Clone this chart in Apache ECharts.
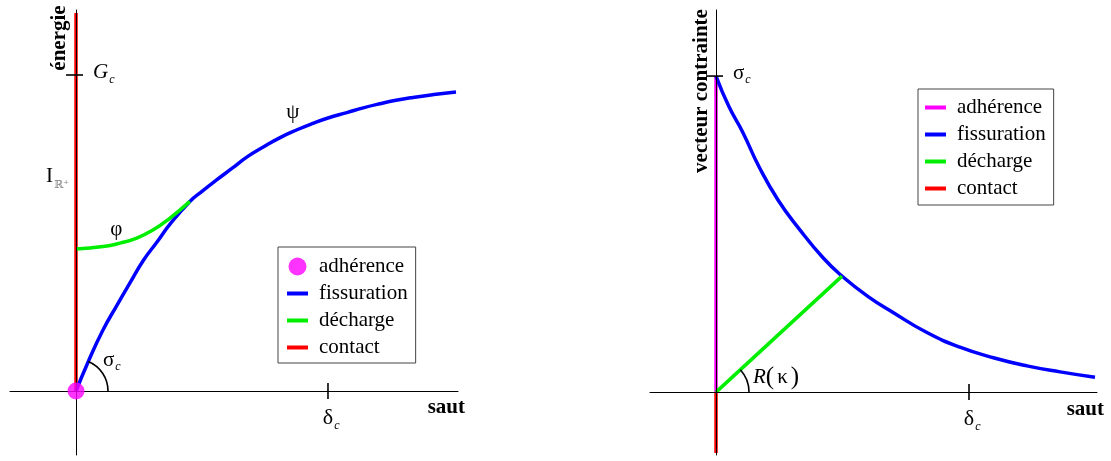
<!DOCTYPE html>
<html>
<head>
<meta charset="utf-8">
<script src="https://cdn.jsdelivr.net/npm/echarts@6/dist/echarts.min.js"></script>
<style>
  html, body { margin: 0; padding: 0; background: #fff; }
  #chart { width: 1111px; height: 461px; }
</style>
</head>
<body>
<div id="chart"></div>
<script>
// Reference values (unit = critical value on each axis)
const GC = 1;        // G_c, critical energy
const SIGMA_C = 1;   // σ_c, critical stress
const DELTA_C = 1;   // δ_c, critical jump

// Left panel: energy versus jump
const fissurationEnergie = [[0, 0], [0.048, 0.092], [0.107, 0.193], [0.16, 0.268], [0.214, 0.342],
  [0.267, 0.413], [0.32, 0.470], [0.373, 0.528], [0.452, 0.600], [0.50, 0.632], [0.558, 0.668],
  [0.62, 0.705], [0.679, 0.741], [0.745, 0.773], [0.810, 0.802], [0.875, 0.826], [0.940, 0.847],
  [1.0, 0.864], [1.075, 0.881], [1.14, 0.896], [1.206, 0.909], [1.27, 0.920], [1.337, 0.929],
  [1.42, 0.938], [1.508, 0.946]];
const dechargeEnergie = [[0, 0.449], [0.108, 0.457], [0.175, 0.468], [0.241, 0.484],
  [0.307, 0.510], [0.373, 0.547], [0.452, 0.600]];
const contactEnergie = [[0, 0], [0, 1.196]];
const adherenceEnergie = [[0, 0]];

// Right panel: stress vector versus jump
const fissurationContrainte = [[0, 1], [0.05, 0.905], [0.107, 0.820], [0.17, 0.713], [0.245, 0.608],
  [0.33, 0.515], [0.423, 0.425], [0.498, 0.367], [0.60, 0.303], [0.700, 0.252], [0.83, 0.190],
  [0.964, 0.142], [1.10, 0.108], [1.229, 0.083], [1.36, 0.064], [1.498, 0.047]];
const dechargeContrainte = [[0, 0], [0.498, 0.367]];
const adherenceContrainte = [[0, 0], [0, 1]];
const contactContrainte = [[0, 0], [0, -0.193]];

// Legend entries (same wording on both panels)
const legendLabels = ['adhérence', 'fissuration', 'décharge', 'contact'];

const SERIF = "'Liberation Serif', 'Times New Roman', 'DejaVu Serif', serif";
const COLORS = { adherence: '#ff00ff', fissuration: '#0000ff', decharge: '#00ee00', contact: '#ff0000' };

// Axis extents of each panel
const LEFT_X = [-0.262, 1.516], LEFT_Y = [-0.2025, 1.2057];
const RIGHT_X = [-0.261, 1.506], RIGHT_Y = [-0.199, 1.209];

// Label anchors (data units)
const phiLabelAt = [0.16, 0.51];
const psiLabelAt = [0.86, 0.88];
const indicatorLabelY = 0.68;

const measureCtx = document.createElement('canvas').getContext('2d');
function fontString(s) {
  return (s.fontStyle || 'normal') + ' ' + (s.fontWeight || 'normal') + ' ' + s.fontSize + 'px ' + SERIF;
}
function textW(str, s) { measureCtx.font = fontString(s); return measureCtx.measureText(str).width; }

function txt(x, y, text, s, align, extra) {
  return Object.assign({
    type: 'text', x: x, y: y,
    style: Object.assign({
      text: text, fontFamily: SERIF, fontSize: s.fontSize, fontStyle: s.fontStyle || 'normal',
      fontWeight: s.fontWeight || 'normal', fill: s.color || '#000',
      align: align || 'left', verticalAlign: 'middle'
    }, s.rich ? { rich: s.rich } : {})
  }, extra || {});
}

// Symbol with an italic subscript; align 'left' or 'center' refers to the main glyph
function subscripted(x, y, main, sub, mainS, subS, align, subDy) {
  const w = textW(main, mainS);
  const x0 = align === 'center' ? x - w / 2 : x;
  return [
    txt(x0, y, main, mainS, 'left'),
    txt(x0 + w + 1, y + (subDy || 8), sub, subS, 'left')
  ];
}

const subStyle = { fontSize: 12, fontStyle: 'italic' };
const tickStyle = { stroke: '#000', lineWidth: 1.6 };

function hTick(p, l, r) { return { type: 'line', shape: { x1: p[0] - l, y1: p[1], x2: p[0] + r, y2: p[1] }, style: tickStyle }; }
function vTick(p, a) { return { type: 'line', shape: { x1: p[0], y1: p[1] - a, x2: p[0], y2: p[1] + a }, style: tickStyle }; }
function angleArc(o, toward, r) {
  const ang = Math.atan2(o[1] - toward[1], toward[0] - o[0]);
  return { type: 'arc', shape: { cx: o[0], cy: o[1], r: r, startAngle: -ang, endAngle: 0, clockwise: true },
    style: { stroke: '#000', fill: null, lineWidth: 1.6 } };
}

function renderEnergie(params, api) {
  const o = api.coord([0, 0]);
  const g = api.coord([0, GC]);
  const d = api.coord([DELTA_C, 0]);
  const top = api.coord([0, LEFT_Y[1]]);
  const end = api.coord([LEFT_X[1], 0]);
  const phi = api.coord(phiLabelAt);
  const psi = api.coord(psiLabelAt);
  const ind = api.coord([0, indicatorLabelY]);
  const children = [
    hTick(g, 10, 7),
    vTick(d, 8),
    angleArc(o, api.coord(fissurationEnergie[1]), 32),
    txt(phi[0], phi[1], 'φ', { fontSize: 21 }, 'center'),
    txt(psi[0], psi[1], 'ψ', { fontSize: 21 }, 'center'),
    txt(end[0] + 7, o[1] + 17, 'saut', { fontSize: 21, fontWeight: 'bold' }, 'right'),
    txt(o[0] - 16, top[1] + 28, 'énergie', { fontSize: 21, fontWeight: 'bold' }, 'center', { rotation: Math.PI / 2 })
  ].concat(
    subscripted(g[0] + 17, g[1] - 3, 'G', 'c', { fontSize: 21, fontStyle: 'italic' }, subStyle, 'left', 8),
    subscripted(o[0] + 27, o[1] - 31, 'σ', 'c', { fontSize: 21 }, subStyle, 'left', 7),
    subscripted(d[0], o[1] + 27, 'δ', 'c', { fontSize: 22 }, subStyle, 'center', 8),
    subscripted(o[0] - 30, ind[1], 'I', 'ℝ⁺', { fontSize: 21 }, { fontSize: 11, color: '#888' }, 'left', 9)
  );
  return { type: 'group', children: children };
}

function renderContrainte(params, api) {
  const o = api.coord([0, 0]);
  const s = api.coord([0, SIGMA_C]);
  const d = api.coord([DELTA_C, 0]);
  const top = api.coord([0, RIGHT_Y[1]]);
  const end = api.coord([RIGHT_X[1], 0]);
  const children = [
    hTick(s, 10, 7),
    vTick(d, 8),
    angleArc(o, api.coord(dechargeContrainte[1]), 33),
    txt(end[0] + 7, o[1] + 17, 'saut', { fontSize: 21, fontWeight: 'bold' }, 'right'),
    txt(o[0] - 14, top[1] + 81, 'vecteur contrainte', { fontSize: 21, fontWeight: 'bold' }, 'center', { rotation: Math.PI / 2 }),
    txt(o[0] + 37, o[1] - 15, '{i|R}{p|(}{k|κ}{p|)}', {
      fontSize: 21,
      rich: {
        i: { fontFamily: SERIF, fontSize: 21, fontStyle: 'italic' },
        p: { fontFamily: SERIF, fontSize: 25 },
        k: { fontFamily: SERIF, fontSize: 21, padding: [0, 3, 0, 3] }
      }
    }, 'left')
  ].concat(
    subscripted(s[0] + 17, s[1] - 3, 'σ', 'c', { fontSize: 21 }, subStyle, 'left', 7),
    subscripted(d[0], o[1] + 27, 'δ', 'c', { fontSize: 22 }, subStyle, 'center', 8)
  );
  return { type: 'group', children: children };
}

function axisPair(idx, xr, yr) {
  const common = {
    gridIndex: idx, type: 'value', z: 3,
    axisLine: { show: true, onZero: true, lineStyle: { color: '#000', width: 1 } },
    axisTick: { show: false }, axisLabel: { show: false }, splitLine: { show: false }
  };
  return [Object.assign({ min: xr[0], max: xr[1] }, common), Object.assign({ min: yr[0], max: yr[1] }, common)];
}
const [xL, yL] = axisPair(0, LEFT_X, LEFT_Y);
const [xR, yR] = axisPair(1, RIGHT_X, RIGHT_Y);

function lineSeries(name, idx, data, color, width, smooth) {
  return {
    name: name, type: 'line', xAxisIndex: idx, yAxisIndex: idx, data: data,
    symbol: 'none', showSymbol: false, smooth: smooth ? 0.5 : false,
    lineStyle: { color: color, width: width }, itemStyle: { color: color }, z: 2, silent: true
  };
}

// Right-panel series carry a suffix so each legend picks its own icon
const R = '|σ';
const LINE_ICON = 'path://M0,0H21V4H0Z';

function legendBox(left, top, suffix, padding, firstIcon) {
  return {
    orient: 'vertical', left: left, top: top,
    data: legendLabels.map((n, i) => ({ name: n + suffix, icon: i === 0 ? firstIcon : LINE_ICON })),
    formatter: n => n.split('|')[0],
    itemWidth: 21, itemHeight: 18, itemGap: 6, padding: padding,
    borderColor: '#444', borderWidth: 1, backgroundColor: '#fff',
    selectedMode: false, symbolKeepAspect: true,
    textStyle: { fontFamily: SERIF, fontSize: 21, color: '#000', lineHeight: 21, padding: [0, 0, 0, 6] }
  };
}

const option = {
  animation: false,
  backgroundColor: '#fff',
  grid: [
    { left: 10, top: 10, width: 448, height: 445 },
    { left: 650, top: 10, width: 447, height: 445 }
  ],
  xAxis: [xL, xR],
  yAxis: [yL, yR],
  legend: [
    legendBox(278, 247, '', [9, 8, 5, 9], 'circle'),
    legendBox(918, 89, R, [8, 8, 6, 7], LINE_ICON)
  ],
  series: [
    lineSeries('contact', 0, contactEnergie, COLORS.contact, 3.5, false),
    lineSeries('fissuration', 0, fissurationEnergie, COLORS.fissuration, 3.5, true),
    lineSeries('décharge', 0, dechargeEnergie, COLORS.decharge, 3.5, true),
    {
      name: 'adhérence', type: 'scatter', xAxisIndex: 0, yAxisIndex: 0, data: adherenceEnergie,
      symbol: 'circle', symbolSize: 17, itemStyle: { color: COLORS.adherence }, z: 4, silent: true
    },
    lineSeries('adhérence' + R, 1, adherenceContrainte, COLORS.adherence, 3.5, false),
    lineSeries('fissuration' + R, 1, fissurationContrainte, COLORS.fissuration, 3.5, true),
    lineSeries('décharge' + R, 1, dechargeContrainte, COLORS.decharge, 3.5, false),
    lineSeries('contact' + R, 1, contactContrainte, COLORS.contact, 3.5, false),
    {
      type: 'custom', xAxisIndex: 0, yAxisIndex: 0, data: [[0, 0]], renderItem: renderEnergie,
      z: 5, silent: true, clip: false
    },
    {
      type: 'custom', xAxisIndex: 1, yAxisIndex: 1, data: [[0, 0]], renderItem: renderContrainte,
      z: 5, silent: true, clip: false
    }
  ]
};

const chart = echarts.init(document.getElementById('chart'), null, { renderer: 'canvas' });
chart.setOption(option);
</script>
</body>
</html>
